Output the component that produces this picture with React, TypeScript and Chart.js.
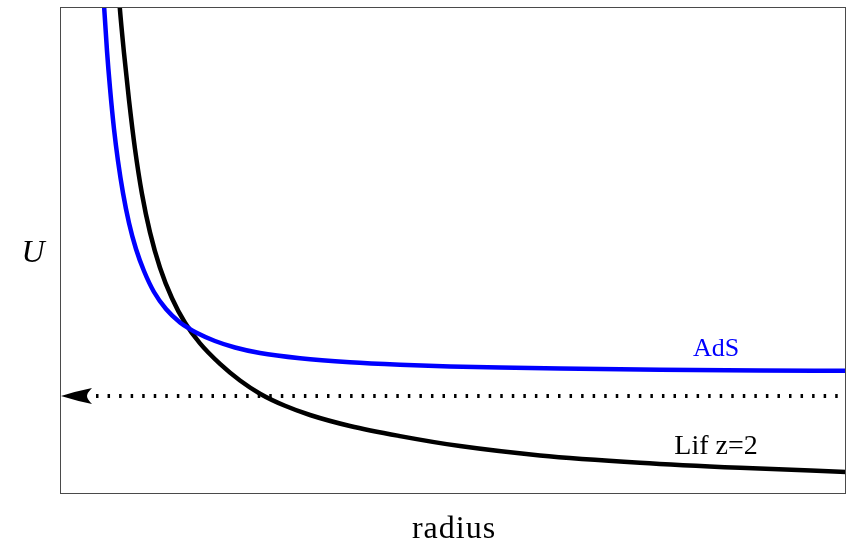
import React, { useEffect, useRef } from "react";
import { Chart, registerables } from "chart.js";

Chart.register(...registerables);

// ---- data ----
const radiusAdS = [40, 42, 44, 47, 50, 54, 58, 63, 69, 76, 84, 94, 106, 120, 130, 136, 155, 175, 200, 240, 290, 340, 390, 440, 500, 600, 700, 786];
const potentialAdS = [565, 523, 488, 442, 405, 364, 332, 300, 270, 244, 222, 201, 184, 170.5, 164, 160.5, 152, 145.5, 140, 134.8, 130.8, 128.3, 126.6, 125.4, 124.4, 123.3, 122.6, 122.2];

const radiusLif = [55, 59, 64, 69, 75, 82, 90, 100, 112, 125, 140, 160, 180, 200, 225, 250, 290, 340, 400, 480, 580, 680, 786];
const potentialLif = [555, 495, 440, 393, 344, 299, 260.6, 225.3, 194.7, 170.2, 149.6, 129.1, 112.5, 99.3, 87.2, 78, 67, 56.9, 46.9, 37.6, 30.3, 25.2, 21.1];

const energyRadius = [36, 786];
const energyLevel = [97, 97];
const arrowTipRadius = 1;

const xRange = [0, 786];
const yRange = [0, 486];

const seriesNames = ["AdS", "Lif z=2"];
const xTitle = "radius";
const yTitle = "U";

const toPoints = (xs: number[], ys: number[]) => xs.map((x, i) => ({ x, y: ys[i] }));

const overlayPlugin = {
  id: "overlay",
  afterDraw(chart: any) {
    const { ctx, chartArea, scales } = chart;
    const xs = scales.x;
    const ys = scales.y;
    ctx.save();

    // frame
    ctx.strokeStyle = "#4a4a4a";
    ctx.lineWidth = 1;
    ctx.strokeRect(chartArea.left + 0.5, chartArea.top + 0.5, chartArea.right - chartArea.left - 1, chartArea.bottom - chartArea.top);

    // arrowhead
    const tx = xs.getPixelForValue(arrowTipRadius);
    const ty = ys.getPixelForValue(energyLevel[0]);
    ctx.fillStyle = "#000000";
    ctx.beginPath();
    ctx.moveTo(tx, ty);
    ctx.quadraticCurveTo(tx + 16, ty - 5, tx + 31, ty - 8);
    ctx.quadraticCurveTo(tx + 26, ty - 3, tx + 26, ty);
    ctx.quadraticCurveTo(tx + 26, ty + 3, tx + 31, ty + 8);
    ctx.quadraticCurveTo(tx + 16, ty + 5, tx, ty);
    ctx.closePath();
    ctx.fill();

    // series labels
    ctx.textAlign = "center";
    ctx.textBaseline = "alphabetic";
    ctx.font = "26px 'Liberation Serif', 'Times New Roman', serif";
    ctx.fillStyle = "#0000ff";
    ctx.fillText(seriesNames[0], xs.getPixelForValue(656), ys.getPixelForValue(137.5));
    ctx.font = "28px 'Liberation Serif', 'Times New Roman', serif";
    ctx.fillStyle = "#000000";
    ctx.fillText(seriesNames[1], xs.getPixelForValue(656), ys.getPixelForValue(39));

    // axis titles
    ctx.font = "32px 'Liberation Serif', 'Times New Roman', serif";
    try { (ctx as any).letterSpacing = "1px"; } catch (e) {}
    ctx.fillText(xTitle, (chartArea.left + chartArea.right) / 2 + 1, chartArea.bottom + 45);
    try { (ctx as any).letterSpacing = "0px"; } catch (e) {}
    ctx.font = "italic 32px 'Liberation Serif', 'Times New Roman', serif";
    ctx.fillText(yTitle, 33, 261.5);

    ctx.restore();
  },
};

export default function App() {
  const canvasRef = useRef<HTMLCanvasElement | null>(null);

  useEffect(() => {
    const canvas = canvasRef.current;
    if (!canvas) return;
    const chart = new Chart(canvas, {
      type: "line",
      data: {
        datasets: [
          {
            label: seriesNames[0],
            data: toPoints(radiusAdS, potentialAdS),
            borderColor: "#0000ff",
            borderWidth: 4.5,
            pointRadius: 0,
            cubicInterpolationMode: "monotone",
            fill: false,
            clip: 0,
          },
          {
            label: seriesNames[1],
            data: toPoints(radiusLif, potentialLif),
            borderColor: "#000000",
            borderWidth: 4.5,
            pointRadius: 0,
            cubicInterpolationMode: "monotone",
            fill: false,
            clip: 0,
          },
          {
            label: "energy",
            data: toPoints(energyRadius, energyLevel),
            borderColor: "#000000",
            borderWidth: 4,
            borderDash: [2.5, 9.05],
            borderCapStyle: "butt",
            pointRadius: 0,
            fill: false,
            clip: 0,
          },
        ],
      },
      options: {
        responsive: false,
        animation: false,
        devicePixelRatio: 1,
        layout: { padding: { left: 60, right: 6, top: 7, bottom: 49 } },
        plugins: { legend: { display: false }, tooltip: { enabled: false }, title: { display: false } },
        scales: {
          x: { type: "linear", min: xRange[0], max: xRange[1], display: false },
          y: { type: "linear", min: yRange[0], max: yRange[1], display: false },
        },
        events: [],
      } as any,
      plugins: [overlayPlugin],
    });
    return () => chart.destroy();
  }, []);

  return (
    <div style={{ position: "fixed", left: 0, top: 0, width: 852, height: 542, background: "#ffffff" }}>
      <canvas ref={canvasRef} width={852} height={542} style={{ display: "block" }} />
    </div>
  );
}
